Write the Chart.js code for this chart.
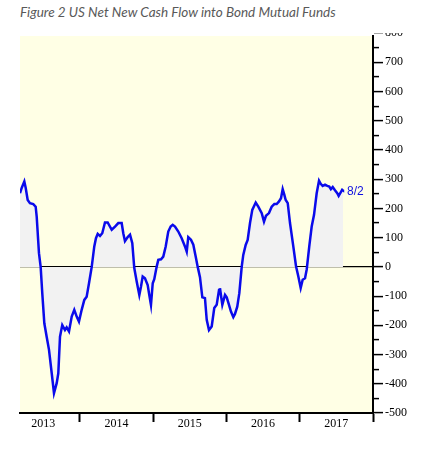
<!DOCTYPE html>
<html>
<head>
<meta charset="utf-8">
<script src="https://cdn.jsdelivr.net/npm/chart.js@4"></script>
<style>
  body { margin: 0; background: #fff; }
  #title {
    height: 33px;
    padding-left: 20px;
    font: italic 13.5px Lato;
    line-height: 25px;
    color: #595959;
    white-space: nowrap;
  }
  canvas { display: block; }
</style>
</head>
<body>
<div id="title">Figure 2 US Net New Cash Flow into Bond Mutual Funds</div>
<canvas id="myChart" width="444" height="418"></canvas>
<script>
// weekly-ish readings, x in decimal years, y in $ billions (12m sum)
const years = [
  2013.181, 2013.204, 2013.240, 2013.259, 2013.286, 2013.317, 2013.362, 2013.395, 2013.409, 2013.440,
  2013.463, 2013.485, 2013.513, 2013.545, 2013.577, 2013.614, 2013.645, 2013.682, 2013.704, 2013.727,
  2013.758, 2013.795, 2013.818, 2013.850, 2013.887, 2013.922, 2013.955, 2013.986, 2014.023, 2014.059,
  2014.091, 2014.123, 2014.160, 2014.195, 2014.218, 2014.242, 2014.273, 2014.304, 2014.341, 2014.378,
  2014.433, 2014.478, 2014.523, 2014.569, 2014.591, 2014.614, 2014.651, 2014.683, 2014.714, 2014.741,
  2014.774, 2014.810, 2014.833, 2014.856, 2014.887, 2014.924, 2014.946, 2014.969, 2014.993, 2015.014,
  2015.047, 2015.069, 2015.106, 2015.137, 2015.170, 2015.205, 2015.238, 2015.266, 2015.297, 2015.342,
  2015.388, 2015.433, 2015.457, 2015.478, 2015.515, 2015.547, 2015.580, 2015.607, 2015.638, 2015.670,
  2015.706, 2015.730, 2015.761, 2015.798, 2015.833, 2015.866, 2015.898, 2015.911, 2015.943, 2015.980,
  2016.003, 2016.034, 2016.061, 2016.093, 2016.116, 2016.147, 2016.175, 2016.208, 2016.229, 2016.262,
  2016.289, 2016.321, 2016.352, 2016.399, 2016.434, 2016.481, 2016.512, 2016.539, 2016.580, 2016.617,
  2016.653, 2016.685, 2016.717, 2016.744, 2016.767, 2016.789, 2016.808, 2016.836, 2016.867, 2016.912,
  2016.949, 2016.980, 2017.013, 2017.040, 2017.072, 2017.095, 2017.130, 2017.163, 2017.195, 2017.231,
  2017.263, 2017.286, 2017.313, 2017.345, 2017.376, 2017.403, 2017.425, 2017.450, 2017.481, 2017.512,
  2017.531, 2017.559, 2017.579, 2017.590,
];
const flows = [
  252, 270, 292, 270, 229, 218, 215, 206, 172, 47,
  0, -90, -193, -239, -284, -364, -432, -398, -364, -239,
  -199, -216, -207, -221, -170, -147, -170, -187, -147, -113,
  -102, -56, 0, 70, 98, 113, 106, 115, 152, 152,
  127, 138, 150, 150, 115, 88, 102, 110, 81, -4,
  -50, -96, -67, -33, -39, -62, -96, -130, -56, -42,
  1, 24, 26, 35, 70, 121, 138, 144, 138, 121,
  98, 70, 52, 102, 93, 76, 35, 0, -35, -104,
  -107, -181, -216, -204, -141, -130, -79, -73, -130, -96,
  -104, -130, -153, -172, -161, -136, -90, 1, 41, 75,
  92, 150, 195, 220, 206, 184, 155, 175, 184, 206,
  215, 215, 224, 235, 266, 247, 229, 218, 150, 70,
  2, -32, -72, -44, -39, -9, 70, 138, 178, 252,
  295, 284, 277, 281, 277, 275, 266, 273, 262, 252,
  243, 255, 264, 262,
];
const lastLabel = "8/2";

const yearLabels = ["2013", "2014", "2015", "2016", "2017"];
const yearStarts = [2013, 2014, 2015, 2016, 2017];
const yLabels = [-500, -400, -300, -200, -100, 0, 100, 200, 300, 400, 500, 600, 700, 800];

const xTicks = yearStarts.flatMap((s) => [s + 0.5, s + 1]);
const yTicks = yLabels.flatMap((v) => (v < 800 ? [v, v + 50] : [v]));

const plotBackground = {
  id: "plotBackground",
  beforeDraw: (chart) => {
    const { ctx, chartArea: a } = chart;
    ctx.save();
    ctx.fillStyle = "#FFFFE5";
    ctx.fillRect(a.left, a.top, a.right - a.left, a.bottom - a.top);
    ctx.restore();
  },
};

const endLabel = {
  id: "endLabel",
  afterDatasetsDraw: (chart) => {
    const { ctx } = chart;
    const pts = chart.getDatasetMeta(0).data;
    const last = pts[pts.length - 1];
    ctx.save();
    ctx.fillStyle = "#1010E0";
    ctx.font = '12px "Liberation Sans"';
    ctx.textBaseline = "middle";
    ctx.fillText(lastLabel, last.x + 4, last.y + 1);
    ctx.restore();
  },
};

const axisFont = { family: '"Liberation Serif", serif', size: 12 };
const ctx = document.getElementById("myChart").getContext("2d");

const myChart = new Chart(ctx, {
  type: "line",
  data: {
    datasets: [
      {
        data: years.map((x, i) => ({ x, y: flows[i] })),
        borderColor: "#0A0AEB",
        borderWidth: 2.5,
        pointRadius: 0,
        tension: 0,
        fill: { value: 0 },
        backgroundColor: "#F2F2F2",
      },
    ],
  },
  options: {
    responsive: false,
    animation: false,
    layout: {
      autoPadding: false,
      padding: { left: 20, top: 3, right: 0, bottom: 0 },
    },
    plugins: {
      legend: { display: false },
      tooltip: { enabled: false },
    },
    scales: {
      x: {
        type: "linear",
        min: years[0],
        max: 2018,
        afterBuildTicks: (scale) => {
          scale.ticks = xTicks.map((v) => ({ value: v }));
        },
        afterFit: (scale) => {
          scale.height = 38;
          scale.paddingLeft = 0;
          scale.paddingRight = 0;
        },
        border: { color: "#000", width: 2 },
        grid: {
          drawOnChartArea: false,
          tickLength: 9,
          tickWidth: 2,
          tickColor: (c) =>
            Number.isInteger(c.tick.value) ? "#000" : "rgba(0,0,0,0)",
        },
        ticks: {
          autoSkip: false,
          maxRotation: 0,
          padding: -5,
          color: "#000",
          font: axisFont,
          callback: (v) => {
            const i = yearStarts.indexOf(v - 0.5);
            return i >= 0 ? yearLabels[i] : "";
          },
        },
      },
      y: {
        position: "right",
        min: -500,
        max: 790,
        afterBuildTicks: (scale) => {
          scale.ticks = yTicks.map((v) => ({ value: v }));
        },
        afterFit: (scale) => {
          scale.width = 71;
          scale.paddingTop = 0;
          scale.paddingBottom = 0;
        },
        border: { color: "#000", width: 2 },
        grid: {
          color: (c) =>
            c.tick && c.tick.value === 0 ? "#000" : "rgba(0,0,0,0)",
          lineWidth: 1.2,
          tickColor: "#000",
          tickLength: 10,
          tickWidth: 1.5,
          tickBorderDash: (c) =>
            c.tick && c.tick.value % 100 !== 0 ? [5, 20] : [],
        },
        ticks: {
          autoSkip: false,
          padding: 2,
          color: "#000",
          font: axisFont,
          callback: (v) => (v % 100 === 0 ? v : ""),
        },
      },
    },
  },
  plugins: [plotBackground, endLabel],
});
</script>
</body>
</html>
